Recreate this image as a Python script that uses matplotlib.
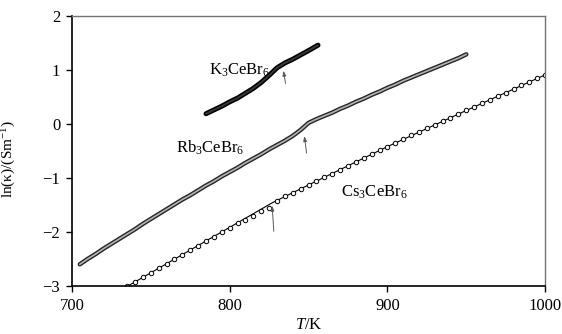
import matplotlib
matplotlib.use("Agg")
import matplotlib.pyplot as plt

plt.rcParams['font.family'] = ['Liberation Serif', 'DejaVu Serif']
plt.rcParams['mathtext.fontset'] = 'custom'
plt.rcParams['mathtext.rm'] = 'Liberation Serif'
plt.rcParams['mathtext.it'] = 'Liberation Serif:italic'

# K3CeBr6
T_k = [785, 790, 795, 800, 805, 810, 815, 820, 825, 830, 835, 840, 845, 850, 856]
ln_k = [0.19, 0.26, 0.33, 0.41, 0.48, 0.57, 0.66, 0.77, 0.90, 1.04, 1.13, 1.20,
        1.28, 1.36, 1.46]

# Rb3CeBr6
T_rb = [705, 710, 715, 720, 725, 730, 735, 740, 745, 750, 755, 760, 765, 770,
        775, 780, 785, 790, 795, 800, 805, 810, 815, 820, 825, 830, 835, 840,
        845, 850, 855, 860, 865, 870, 875, 880, 885, 890, 895, 900, 905, 910,
        915, 920, 925, 930, 935, 940, 945, 950]
ln_rb = [-2.60, -2.50, -2.41, -2.31, -2.22, -2.13, -2.04, -1.95, -1.85, -1.76,
         -1.67, -1.58, -1.49, -1.40, -1.32, -1.23, -1.14, -1.06, -0.97, -0.89,
         -0.81, -0.72, -0.64, -0.56, -0.47, -0.39, -0.31, -0.22, -0.11, 0.02,
         0.09, 0.15, 0.21, 0.28, 0.34, 0.41, 0.47, 0.54, 0.60, 0.67, 0.73, 0.80,
         0.86, 0.92, 0.98, 1.04, 1.10, 1.16, 1.22, 1.29]

# Cs3CeBr6 measured points
T_cs = [735, 740, 745, 750, 755, 760, 765, 770, 775, 780, 785, 790, 795, 800,
        805, 810, 815, 820, 825, 830, 835, 840, 845, 850, 855, 860, 865, 870,
        875, 880, 885, 890, 895, 900, 905, 910, 915, 920, 925, 930, 935, 940,
        945, 950, 955, 960, 965, 970, 975, 980, 985, 990, 995, 1000]
ln_cs = [-3.01, -2.92, -2.84, -2.76, -2.67, -2.59, -2.51, -2.42, -2.34, -2.26,
         -2.17, -2.09, -2.01, -1.92, -1.84, -1.78, -1.70, -1.62, -1.55, -1.42,
         -1.34, -1.27, -1.20, -1.13, -1.06, -0.99, -0.92, -0.85, -0.78, -0.71,
         -0.63, -0.56, -0.49, -0.42, -0.35, -0.28, -0.21, -0.15, -0.08, -0.01,
         0.06, 0.12, 0.19, 0.25, 0.32, 0.39, 0.45, 0.52, 0.58, 0.65, 0.72, 0.78,
         0.85, 0.91]
# Cs3CeBr6 fitted lines (two segments)
T_cs_fit = [735, 827, 850, 900, 950, 1000]
ln_cs_fit = [-3.01, -1.46, -1.13, -0.42, 0.25, 0.91]

# transition arrows: (tip T, tip ln, tail T, tail ln)
arrows = [(833.8, 1.04, 835.7, 0.70),
          (847.1, -0.17, 849.0, -0.59),
          (826.8, -1.46, 828.1, -2.04)]

fig = plt.figure(figsize=(5.62, 3.34), dpi=100)
ax = fig.add_axes([0.128, 0.144, 0.842, 0.808])

ax.plot(T_k, ln_k, color='black', lw=3.6, solid_capstyle='round')
ax.plot(T_k, ln_k, color='0.22', lw=1.3, solid_capstyle='round')
ax.plot(T_rb, ln_rb, color='0.15', lw=3.2, solid_capstyle='round')
ax.plot(T_rb, ln_rb, color='0.7', lw=1.2, solid_capstyle='round')
ax.plot(T_cs_fit, ln_cs_fit, color='black', lw=0.8)
ax.plot(T_cs, ln_cs, 'o', ms=3.2, mfc='white', mec='black', mew=0.7)

for tx, ty, sx, sy in arrows:
    ax.annotate('', xy=(tx, ty), xytext=(sx, sy),
                arrowprops=dict(arrowstyle='-|>,head_length=0.3,head_width=0.1',
                                color='0.35', lw=0.7))

ax.text(787, 1.0, 'K$_3$CeBr$_6$', fontsize=12, va='center')
ax.text(766, -0.44, 'Rb$_3$CeBr$_6$', fontsize=12, va='center')
ax.text(870.5, -1.26, 'Cs$_3$CeBr$_6$', fontsize=12, va='center')

ax.set_xlim(700, 1000)
ax.set_ylim(-3, 2)
ax.set_xticks([700, 800, 900, 1000])
ax.set_yticks([-3, -2, -1, 0, 1, 2])
ax.tick_params(direction='out', length=4.5, width=1, labelsize=12, pad=4)

ax.set_xlabel('$T$/K', fontsize=12)
ax.xaxis.set_label_coords(0.5, -0.115)
ax.set_ylabel('ln(κ)/(Sm$^{-1}$)', fontsize=11)
ax.yaxis.set_label_coords(-0.115, 0.47)

for s in ['top', 'right']:
    ax.spines[s].set_color('0.45')
    ax.spines[s].set_linewidth(1)
for s in ['left', 'bottom']:
    ax.spines[s].set_color('black')
    ax.spines[s].set_linewidth(1.2)

fig.savefig('out.png', dpi=100)
